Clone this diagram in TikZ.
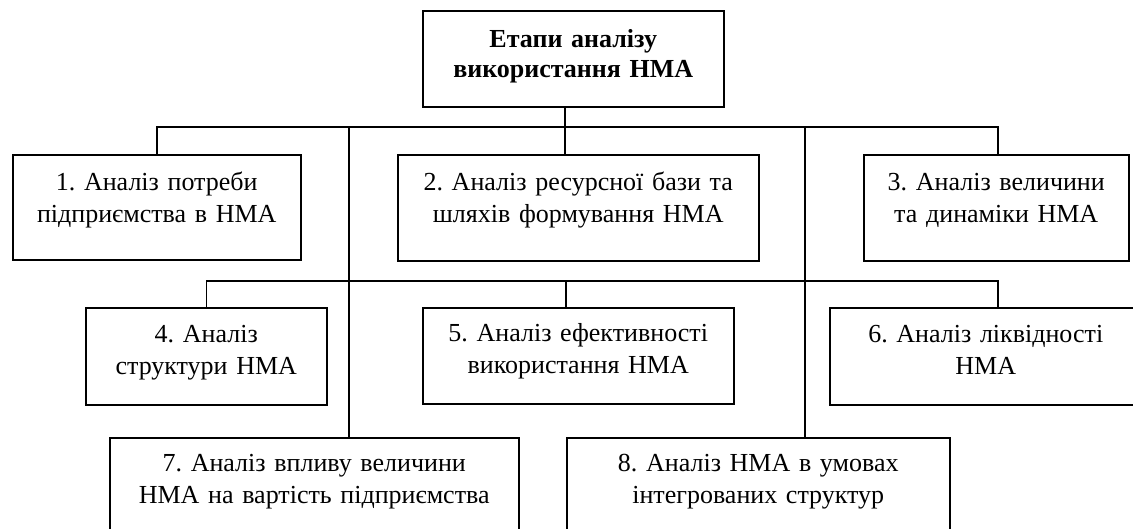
\documentclass[tikz,border=0pt]{standalone}
\usepackage{fontspec}
\setmainfont{Liberation Serif}
\usepackage{tikz}
\usetikzlibrary{positioning,calc}
\frenchspacing

\tikzset{
    box/.style={draw, line width=1.5pt, inner sep=0pt, align=center, anchor=north west,
        font=\fontsize{26}{32}\selectfont},
    link/.style={line width=1.5pt}
}

\begin{document}
\begin{tikzpicture}[x=1pt, y=-1pt]
    \useasboundingbox (0,0) rectangle (1133,528);
    \clip (0,0) rectangle (1133,528);

    % головний блок
    \node[box, text width=301pt, text height=37pt, text depth=59pt,
        font=\fontsize{26}{30}\selectfont\bfseries] (t) at (422,10) {Етапи аналізу\\використання НМА};

    % перший ряд
    \node[box, text width=288pt, text height=36pt, text depth=69pt] (b1) at (12,154) {1. Аналіз потреби\\підприємства в НМА};
    \node[box, text width=361pt, text height=36pt, text depth=70pt] (b2) at (397,154) {2. Аналіз ресурсної бази та\\шляхів формування НМА};
    \node[box, text width=265pt, text height=36pt, text depth=70pt] (b3) at (863,154) {3. Аналіз величини\\та динаміки НМА};

    % другий ряд
    \node[box, text width=241pt, text height=35pt, text depth=62pt] (b4) at (85,307) {4. Аналіз\\структури НМА};
    \node[box, text width=311pt, text height=34pt, text depth=62pt] (b5) at (422,307) {5. Аналіз ефективності\\використання НМА};
    \node[box, text width=312pt, text height=35pt, text depth=62pt] (b6) at (829,307) {6. Аналіз ліквідності\\НМА};

    % третій ряд
    \node[box, text width=409pt, text height=34pt, text depth=120pt] (b7) at (109,437) {7. Аналіз впливу величини\\НМА на вартість підприємства};
    \node[box, text width=383pt, text height=34pt, text depth=120pt] (b8) at (566,437) {8. Аналіз НМА в умовах\\інтегрованих структур};

    % з'єднання
    \coordinate (j0) at (565,127);
    \coordinate (j1) at (349,127);
    \coordinate (j2) at (805,127);
    \coordinate (j3) at (998,127);
    \coordinate (k0) at (566,281);
    \coordinate (k1) at (998,281);

    \draw[link] (t.south -| j0) -- (j0);
    \draw[link] (b1.north) |- (j3) -- (j3 |- b3.north);
    \draw[link] (j0) -- (j0 |- b2.north);
    \draw[link] (j1) -- (j1 |- b7.north);
    \draw[link] (j2) -- (j2 |- b8.north);
    \draw[link] (b4.north) |- (k1) -- (k1 |- b6.north);
    \draw[link] (k0) -- (k0 |- b5.north);
\end{tikzpicture}
\end{document}
